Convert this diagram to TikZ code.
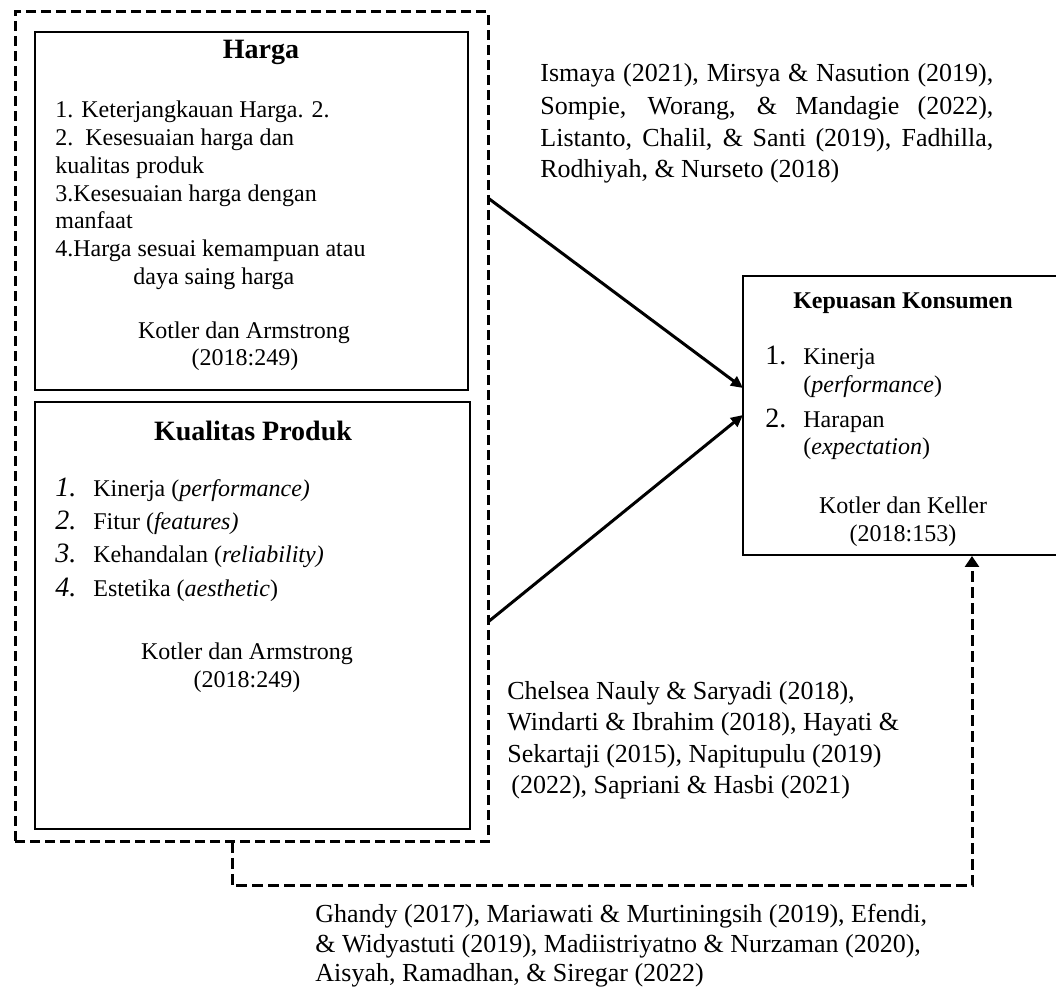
\documentclass[tikz,border=0pt]{standalone}
\usepackage{fontspec}
\setmainfont{Liberation Serif}
\usetikzlibrary{arrows.meta,fit}
\begin{document}
\begin{tikzpicture}[x=0.5pt,y=-0.5pt,
  box/.style={draw,line width=1pt,inner sep=0pt},
  dbox/.style={draw,line width=1.5pt,inner sep=0pt,dash pattern=on 5pt off 2.5pt},
  arr/.style={line width=1.5pt,-{Triangle[length=6pt,width=5.5pt]}},
  darr/.style={line width=1.5pt,dash pattern=on 5.5pt off 2.5pt,-{Triangle[length=5.5pt,width=7pt]}},
  tl/.style={anchor=base west,inner sep=0pt,font=\fontsize{12}{14}\selectfont},
  tc/.style={anchor=base,inner sep=0pt,font=\fontsize{12}{14}\selectfont},
  ttl/.style={anchor=base,inner sep=0pt,font=\fontsize{14}{16}\selectfont\bfseries},
  cit/.style={anchor=base west,inner sep=0pt,font=\fontsize{13}{15}\selectfont},
  num/.style={anchor=base west,inner sep=0pt,font=\fontsize{14}{16}\selectfont\itshape},
  rnum/.style={anchor=base west,inner sep=0pt,font=\fontsize{14}{16}\selectfont}
]
\useasboundingbox (0,0) rectangle (1056,988);

% boxes
\node[dbox, fit={(15,12) (488,842)}] (outer) {};
\node[box, fit={(35,32) (468,390)}] (harga) {};
\node[box, fit={(35,402) (470,829)}] (kualitas) {};
\node[box, line width=0.8pt, fit={(743,276) (1064,555)}] (kepuasan) {};

% Harga
\node[ttl] (hT) at (261,59) {Harga};
\node[tl] (h1) at (55,118) {1. Keterjangkauan Harga. 2.};
\node[tl] (h2) at (55,146) {2.\ \ Kesesuaian harga dan};
\node[tl] (h3) at (55,174) {kualitas produk};
\node[tl] (h4) at (55,202) {3.Kesesuaian harga dengan};
\node[tl] (h5) at (55,229) {manfaat};
\node[tl] (h6) at (55,257) {4.Harga sesuai kemampuan atau};
\node[tl] (h7) at (133,285) {daya saing harga};
\node[tc] (hK1) at (244,339) {Kotler dan Armstrong};
\node[tc] (hK2) at (245,366) {(2018:249)};

% Kualitas Produk
\node[ttl] (kT) at (253,441) {Kualitas Produk};
\node[num] (kn1) at (55,497) {1.};
\node[tl] (k1) at (93,497) {Kinerja (\textit{performance)}};
\node[num] (kn2) at (55,530) {2.};
\node[tl] (k2) at (93,530) {Fitur (\textit{features)}};
\node[num] (kn3) at (55,563) {3.};
\node[tl] (k3) at (93,563) {Kehandalan (\textit{reliability)}};
\node[num] (kn4) at (55,597) {4.};
\node[tl] (k4) at (93,597) {Estetika (\textit{aesthetic})};
\node[tc] (kK1) at (247,660) {Kotler dan Armstrong};
\node[tc] (kK2) at (247,688) {(2018:249)};

% Kepuasan Konsumen
\node[anchor=base,inner sep=0pt,font=\fontsize{12}{14}\selectfont\bfseries] (pT) at (903,309) {Kepuasan Konsumen};
\node[rnum] (pn1) at (765,365) {1.};
\node[tl] (p1) at (803,365) {Kinerja};
\node[tl] (p1b) at (803,393) {(\textit{performance})};
\node[rnum] (pn2) at (765,428) {2.};
\node[tl] (p2) at (803,428) {Harapan};
\node[tl] (p2b) at (803,455) {(\textit{expectation})};
\node[tc] (pK1) at (903,514) {Kotler dan Keller};
\node[tc] (pK2) at (903,542) {(2018:153)};

% citations top
\node[cit] (i1) at (540,82) {\makebox[226.5pt][s]{Ismaya (2021), Mirsya \& Nasution (2019),}};
\node[cit] (i2) at (540,115) {\makebox[226.5pt][s]{Sompie, Worang, \& Mandagie (2022),}};
\node[cit] (i3) at (540,147) {\makebox[226.5pt][s]{Listanto, Chalil, \& Santi (2019), Fadhilla,}};
\node[cit] (i4) at (540,178) {Rodhiyah, \& Nurseto (2018)};

% citations middle
\node[cit] (c1) at (507,700) {Chelsea Nauly \& Saryadi (2018),};
\node[cit] (c2) at (507,731) {Windarti \& Ibrahim (2018), Hayati \&};
\node[cit] (c3) at (507,763) {Sekartaji (2015), Napitupulu (2019)};
\node[cit] (c4) at (511,794) {(2022), Sapriani \& Hasbi (2021)};

% citations bottom
\node[cit] (g1) at (315,922) {Ghandy (2017), Mariawati \& Murtiningsih (2019), Efendi,};
\node[cit] (g2) at (315,953) {\& Widyastuti (2019), Madiistriyatno \& Nurzaman (2020),};
\node[cit] (g3) at (315,982) {Aisyah, Ramadhan, \& Siregar (2022)};

% connectors
\coordinate (a1s) at (488,198);
\coordinate (a1e) at (743,388);
\coordinate (a2s) at (488,622);
\coordinate (a2e) at (743,415);
\draw[arr] (a1s) -- (a1e);
\draw[arr] (a2s) -- (a2e);
\coordinate (d0) at (232,842);
\coordinate (d1) at (972,556);
\draw[darr] (d0) -- ++(0,44) -| (d1);
\end{tikzpicture}
\end{document}
